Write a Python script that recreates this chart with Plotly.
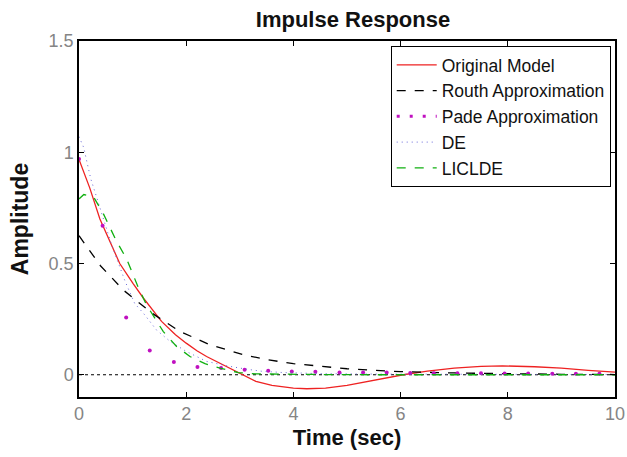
import plotly.graph_objects as go

# ---- data ----
t_orig = [0, 0.2, 0.39, 0.5, 0.76, 1.01, 1.2, 1.54, 1.8, 2.0, 2.2, 2.38, 2.6, 2.76, 2.95, 3.1, 3.3, 3.6, 4.0, 4.25, 4.6, 5.0, 5.5, 6.05, 6.5, 7.0, 7.5, 7.9, 8.5, 9.0, 9.5, 10]
y_orig = [0.968, 0.84, 0.70, 0.64, 0.50, 0.41, 0.345, 0.24, 0.18, 0.142, 0.108, 0.082, 0.055, 0.035, 0.01, -0.008, -0.03, -0.048, -0.06, -0.063, -0.06, -0.048, -0.025, 0.0, 0.016, 0.03, 0.038, 0.04, 0.036, 0.03, 0.02, 0.012]

t_routh = [0, 0.4, 0.83, 1.36, 1.88, 2.44, 3.07, 3.5, 4.0, 4.5, 5.0, 5.5, 6.0, 7.0, 8.0, 9.0, 10]
y_routh = [0.625, 0.49, 0.38, 0.277, 0.195, 0.135, 0.09, 0.068, 0.05, 0.037, 0.027, 0.02, 0.014, 0.008, 0.004, 0.002, 0.001]

t_pade = [0, 0.44, 0.88, 1.32, 1.77, 2.21, 2.65, 3.09, 3.53, 3.97, 4.41, 4.86, 5.30, 5.74, 6.18, 6.62, 7.06, 7.50, 7.94, 8.38, 8.83, 9.27, 9.71]
y_pade = [0.97, 0.67, 0.257, 0.109, 0.057, 0.035, 0.03, 0.022, 0.018, 0.015, 0.013, 0.010, 0.010, 0.010, 0.008, 0.007, 0.007, 0.007, 0.006, 0.006, 0.005, 0.005, 0.005]

t_de = [0, 0.05, 0.09, 0.14, 0.22, 0.3, 0.45, 0.6, 0.86, 1.04, 1.2, 1.45, 1.7, 2.0, 2.38, 2.76, 3.1, 3.4, 3.8, 4.5, 5.5, 7.0, 8.5, 10]
y_de = [1.07, 1.04, 1.02, 0.965, 0.88, 0.82, 0.70, 0.59, 0.42, 0.32, 0.277, 0.20, 0.15, 0.105, 0.06, 0.04, 0.026, 0.016, 0.01, 0.005, 0.003, 0.002, 0.001, 0.001]

t_lic = [0, 0.09, 0.27, 0.45, 0.7, 0.89, 1.11, 1.26, 1.57, 1.82, 2.07, 2.35, 2.63, 2.97, 3.3, 3.8, 4.5, 5.5, 7.0, 8.5, 10]
y_lic = [0.79, 0.81, 0.80, 0.726, 0.60, 0.52, 0.39, 0.314, 0.195, 0.127, 0.082, 0.05, 0.03, 0.01, 0.004, 0.002, 0.001, 0.0, 0.0, 0.0, 0.0]

x_ticks = [0, 2, 4, 6, 8, 10]
y_ticks = [0, 0.5, 1, 1.5]

PADE_COLOR = "#c010c0"
DASH = "9px,9px"

fig = go.Figure()
fig.add_trace(go.Scatter(x=[min(t_orig), max(t_orig)], y=[0, 0], mode="lines",
                         line=dict(color="black", width=1.2, dash="dot"), showlegend=False, hoverinfo="skip"))
fig.add_trace(go.Scatter(x=t_orig, y=y_orig, mode="lines", name="Original Model",
                         line=dict(color="#ee2222", width=1.3)))
fig.add_trace(go.Scatter(x=t_routh, y=y_routh, mode="lines", name="Routh Approximation",
                         line=dict(color="black", width=1.3, dash=DASH)))
# Pade: drawn as sample dots; legend shows a dotted sample like the reference
fig.add_trace(go.Scatter(x=t_pade, y=y_pade, mode="markers", name="Pade Approximation",
                         legendgroup="pade", showlegend=False,
                         marker=dict(color=PADE_COLOR, size=4)))
fig.add_trace(go.Scatter(x=[None], y=[None], mode="lines", name="Pade Approximation",
                         legendgroup="pade", hoverinfo="skip",
                         line=dict(color=PADE_COLOR, width=3, dash="3px,10px")))
fig.add_trace(go.Scatter(x=t_de, y=y_de, mode="lines", name="DE",
                         line=dict(color="#6868d8", width=1, dash="1px,4px")))
fig.add_trace(go.Scatter(x=t_lic, y=y_lic, mode="lines", name="LICLDE",
                         line=dict(color="#10b010", width=1.3, dash=DASH)))

fnt = "Liberation Sans, Arial, Helvetica, sans-serif"
axis_common = dict(showgrid=False, zeroline=False, showline=True, linecolor="black", linewidth=1.5,
                   mirror="ticks", ticks="inside", ticklen=5, tickcolor="black", automargin=False,
                   tickfont=dict(family=fnt, size=18, color="#858585"))
fig.update_xaxes(range=[0, 10], tickvals=x_ticks, ticktext=[str(v) for v in x_ticks],
                 title=dict(text="<b>Time (sec)</b>", font=dict(family=fnt, size=22, color="#111"), standoff=6),
                 **axis_common)
fig.update_yaxes(range=[-0.1, 1.5], tickvals=y_ticks, ticktext=["0", "0.5", "1", "1.5"],
                 title=dict(text="<b>Amplitude</b>", font=dict(family=fnt, size=23, color="#111"), standoff=14),
                 **axis_common)
fig.update_layout(
    width=627, height=457,
    margin=dict(l=79, r=12, t=41, b=60),
    plot_bgcolor="white", paper_bgcolor="white",
    title=dict(text="<b>Impulse Response</b>", x=0.563, xanchor="center", xref="container",
               y=0.958, yanchor="middle", yref="container", automargin=False,
               font=dict(family=fnt, size=22, color="#111")),
    legend=dict(x=0.992, xanchor="right", y=0.986, yanchor="top", bgcolor="white",
                bordercolor="black", borderwidth=1, font=dict(family=fnt, size=17.5, color="#111"),
                tracegroupgap=0, itemwidth=40),
    showlegend=True,
)
fig.write_html("out.html", config={"displayModeBar": False},
               post_script="document.body.style.margin='0';document.body.style.overflow='hidden';")
